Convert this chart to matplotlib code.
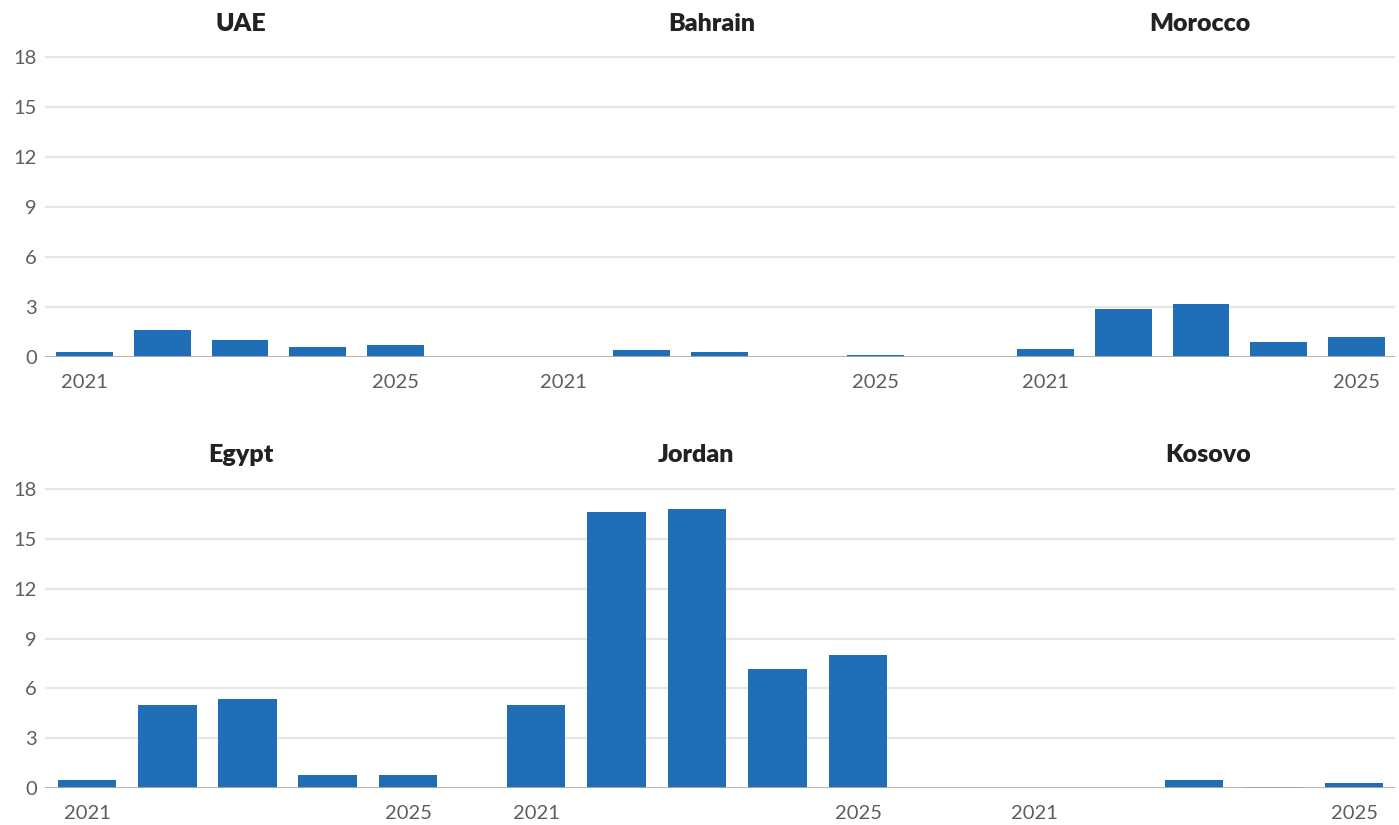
import matplotlib
matplotlib.use("Agg")
from matplotlib import pyplot as plt

plt.rcParams['font.family'] = ['Lato', 'DejaVu Sans']

years = [2021, 2022, 2023, 2024, 2025]
tick_years = [2021, 2025]
y_ticks = [0, 3, 6, 9, 12, 15, 18]

countries = ["UAE", "Bahrain", "Morocco", "Egypt", "Jordan", "Kosovo"]
uae = [0.3, 1.6, 1.0, 0.6, 0.7]
bahrain = [0.03, 0.4, 0.3, 0.03, 0.1]
morocco = [0.5, 2.9, 3.2, 0.9, 1.2]
egypt = [0.5, 5.0, 5.35, 0.8, 0.8]
jordan = [5.0, 16.6, 16.8, 7.15, 8.0]
kosovo = [0.0, 0.0, 0.5, 0.06, 0.3]
values = [uae, bahrain, morocco, egypt, jordan, kosovo]

W, H = 1399, 825
BLUE = "#1f6eb6"
GRID = "#e6e6e6"
BASE = "#adadad"
TICK = "#5e5e5e"

# layout in pixels: left, right, centre of first bar, step between bars, title x
panels = [
    (45, 480, 84.5, 77.75, 241),
    (480, 962, 563.5, 78.0, 712),
    (962, 1395, 1045.5, 77.75, 1200),
    (45, 472, 87.0, 80.25, 241),
    (472, 950, 536.0, 80.5, 696),
    (950, 1395, 1034.0, 80.0, 1208),
]
# per row: pixel of y=0, pixel of y=18, title y pixel
rows = [(357, 57, 24), (788, 489, 455)]

fig = plt.figure(figsize=(W / 100, H / 100), dpi=100)
ymax = 18.6

for i, (name, vals) in enumerate(zip(countries, values)):
    left, right, c0, step, tx = panels[i]
    y0, y18, ty = rows[i // 3]
    px_per = (y0 - y18) / 18
    top_px = y0 - ymax * px_per
    ax = fig.add_axes([left / W, 1 - y0 / H, (right - left) / W, (y0 - top_px) / H])
    ax.set_xlim(years[0] + (left - c0) / step, years[0] + (right - c0) / step)
    ax.set_ylim(0, ymax)
    ax.bar(years, vals, width=0.73, color=BLUE, zorder=3)
    ax.set_yticks(y_ticks)
    for t in y_ticks[1:]:
        ax.axhline(t, color=GRID, lw=1.6, zorder=1)
    ax.axhline(0, color=BASE, lw=2, zorder=4)
    ax.set_xticks(tick_years)
    ax.set_xticklabels([str(y) for y in tick_years])
    ax.tick_params(axis='x', length=0, pad=12.5, labelsize=14.5, labelcolor=TICK)
    ax.tick_params(axis='y', length=0, pad=6, labelsize=14.5, labelcolor=TICK)
    if i % 3 != 0:
        ax.tick_params(axis='y', labelleft=False)
    for s in ax.spines.values():
        s.set_visible(False)
    ax.patch.set_alpha(0)
    fig.text(tx / W, 1 - ty / H, name, ha='center', va='center',
             fontsize=18, fontweight='heavy', color="#222222")

fig.savefig("out.png", dpi=100)
